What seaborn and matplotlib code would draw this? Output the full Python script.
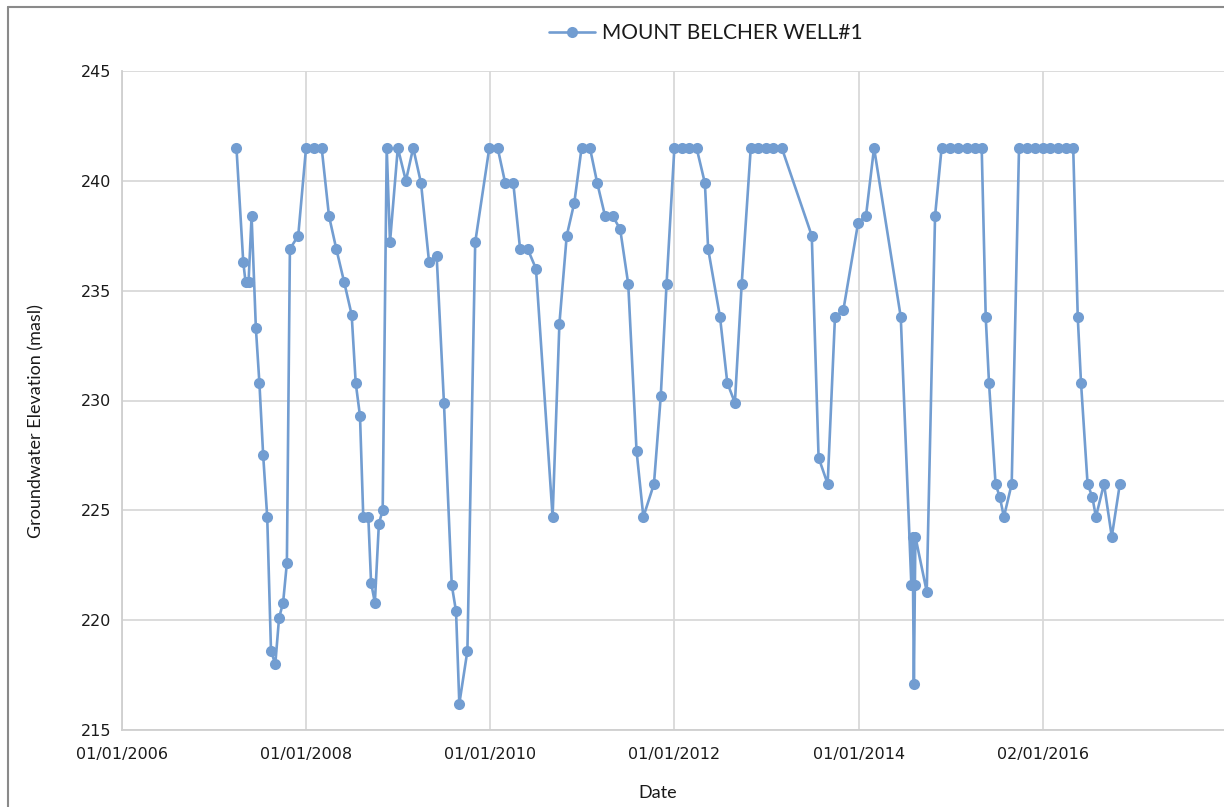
import matplotlib
matplotlib.use("Agg")
import matplotlib.pyplot as plt
import matplotlib.dates as mdates
from matplotlib.lines import Line2D
import pandas as pd
import seaborn as sns

# ---------------------------------------------------------
# Data
# ---------------------------------------------------------

SERIES_NAME = "MOUNT BELCHER WELL#1"

dates = [
    "2007-03-31", "2007-04-27", "2007-05-06", "2007-05-18", "2007-05-30", "2007-06-16",
    "2007-06-30", "2007-07-15", "2007-07-31", "2007-08-15", "2007-09-01", "2007-09-16",
    "2007-10-02", "2007-10-17", "2007-10-29", "2007-12-01",
    "2008-01-01", "2008-02-02", "2008-03-03", "2008-04-01", "2008-04-30", "2008-05-31",
    "2008-06-30", "2008-07-16", "2008-08-02", "2008-08-15", "2008-09-04", "2008-09-15",
    "2008-09-30", "2008-10-16", "2008-10-31", "2008-11-16", "2008-11-29", "2008-12-30",
    "2009-01-31", "2009-03-01", "2009-04-01", "2009-05-03", "2009-06-02", "2009-07-01",
    "2009-08-01", "2009-08-18", "2009-08-31", "2009-10-02", "2009-11-02", "2009-12-28",
    "2010-01-30", "2010-03-01", "2010-04-02", "2010-04-29", "2010-05-29", "2010-07-01",
    "2010-09-05", "2010-10-02", "2010-10-31", "2010-11-30", "2010-12-29",
    "2011-01-31", "2011-03-01", "2011-04-01", "2011-05-01", "2011-05-31", "2011-07-02",
    "2011-08-04", "2011-08-31", "2011-10-12", "2011-11-08", "2011-12-01",
    "2012-01-01", "2012-02-01", "2012-02-29", "2012-03-29", "2012-05-01", "2012-05-14",
    "2012-06-30", "2012-07-29", "2012-08-28", "2012-09-24", "2012-10-30", "2012-11-29",
    "2012-12-29",
    "2013-01-27", "2013-03-02", "2013-06-29", "2013-07-26", "2013-08-31", "2013-09-29",
    "2013-11-01", "2013-12-30",
    "2014-01-30", "2014-03-03", "2014-06-17", "2014-07-29", "2014-08-03", "2014-08-08",
    "2014-08-12", "2014-08-14", "2014-09-28", "2014-10-31", "2014-11-26", "2014-12-29",
    "2015-01-31", "2015-03-05", "2015-04-07", "2015-05-04", "2015-05-20", "2015-06-02",
    "2015-06-28", "2015-07-15", "2015-07-31", "2015-08-31", "2015-09-29", "2015-10-29",
    "2015-12-01",
    "2016-01-01", "2016-01-30", "2016-03-03", "2016-04-01", "2016-05-01", "2016-05-19",
    "2016-06-01", "2016-06-27", "2016-07-16", "2016-07-30", "2016-08-31", "2016-10-01",
    "2016-11-02",
]

elevation = [
    241.5, 236.3, 235.4, 235.4, 238.4, 233.3,
    230.8, 227.5, 224.7, 218.6, 218.0, 220.1,
    220.8, 222.6, 236.9, 237.5,
    241.5, 241.5, 241.5, 238.4, 236.9, 235.4,
    233.9, 230.8, 229.3, 224.7, 224.7, 221.7,
    220.8, 224.4, 225.0, 241.5, 237.2, 241.5,
    240.0, 241.5, 239.9, 236.3, 236.6, 229.9,
    221.6, 220.4, 216.2, 218.6, 237.2, 241.5,
    241.5, 239.9, 239.9, 236.9, 236.9, 236.0,
    224.7, 233.5, 237.5, 239.0, 241.5,
    241.5, 239.9, 238.4, 238.4, 237.8, 235.3,
    227.7, 224.7, 226.2, 230.2, 235.3,
    241.5, 241.5, 241.5, 241.5, 239.9, 236.9,
    233.8, 230.8, 229.9, 235.3, 241.5, 241.5,
    241.5,
    241.5, 241.5, 237.5, 227.4, 226.2, 233.8,
    234.1, 238.1,
    238.4, 241.5, 233.8, 221.6, 223.8, 217.1,
    221.6, 223.8, 221.3, 238.4, 241.5, 241.5,
    241.5, 241.5, 241.5, 241.5, 233.8, 230.8,
    226.2, 225.6, 224.7, 226.2, 241.5, 241.5,
    241.5,
    241.5, 241.5, 241.5, 241.5, 241.5, 233.8,
    230.8, 226.2, 225.6, 224.7, 226.2, 223.8,
    226.2,
]

x_tick_dates = ["2006-01-01", "2008-01-01", "2010-01-01", "2012-01-01",
                "2014-01-01", "2016-01-02"]
x_limits = ["2006-01-01", "2018-01-01"]
y_ticks = [215, 220, 225, 230, 235, 240, 245]

df = pd.DataFrame({"Date": pd.to_datetime(dates), "Elevation": elevation})

# ---------------------------------------------------------
# Style
# ---------------------------------------------------------

sns.set_theme(style="whitegrid")
plt.rcParams["font.family"] = ["DejaVu Sans"]

LINE_COLOR = "#729dd1"
GRID_COLOR = "#d9d9d9"
TEXT_COLOR = "#1a1a1a"

W, H = 1224, 807
fig = plt.figure(figsize=(W / 100, H / 100), dpi=100)
fig.patch.set_facecolor("white")

left, right, top, bottom = 122, 1227, 71, 730
ax = fig.add_axes([left / W, 1 - bottom / H, (right - left) / W, (bottom - top) / H])

sns.lineplot(
    data=df,
    x="Date",
    y="Elevation",
    color=LINE_COLOR,
    linewidth=1.9,
    marker="o",
    markersize=8,
    markeredgewidth=0,
    label=SERIES_NAME,
    ax=ax,
)

ax.set_xlim(pd.to_datetime(x_limits[0]), pd.to_datetime(x_limits[1]))
ax.set_ylim(y_ticks[0], y_ticks[-1])

ax.set_xticks(pd.to_datetime(x_tick_dates))
ax.xaxis.set_major_formatter(mdates.DateFormatter("%d/%m/%Y"))
ax.set_yticks(y_ticks)

ax.grid(True, color=GRID_COLOR, linewidth=1.3)
ax.set_axisbelow(True)
for side in ["top", "right"]:
    ax.spines[side].set_visible(False)
for side in ["left", "bottom"]:
    ax.spines[side].set_color("#cfcfcf")
    ax.spines[side].set_linewidth(1.3)

ax.tick_params(axis="both", length=0, labelsize=11.5, colors=TEXT_COLOR)
ax.tick_params(axis="y", pad=8)
ax.tick_params(axis="x", pad=12)

ax.set_xlabel("Date", family="Lato", fontsize=13, color=TEXT_COLOR)
ax.set_ylabel("Groundwater Elevation (masl)", family="Lato", fontsize=13,
              color=TEXT_COLOR)
ax.xaxis.set_label_coords((658 - left) / (right - left), (bottom - 793) / (bottom - top))
ax.yaxis.set_label_coords((36 - left) / (right - left), (bottom - 421) / (bottom - top))
ax.xaxis.label.set_va("center")
ax.yaxis.label.set_va("center")

leg = ax.legend(
    loc="center",
    bbox_to_anchor=(706 / W, 1 - 33 / H),
    bbox_transform=fig.transFigure,
    frameon=False,
    handlelength=2.2,
    handletextpad=0.35,
    prop={"family": "Lato", "size": 15},
)
for t in leg.get_texts():
    t.set_color(TEXT_COLOR)

# chart-area border (only the top and left edges show in the reference)
fig.add_artist(Line2D([8 / W, 8 / W], [0, 1 - 7 / H], transform=fig.transFigure,
                      color="#8a8a8a", linewidth=1.5))
fig.add_artist(Line2D([8 / W, 1], [1 - 7 / H, 1 - 7 / H], transform=fig.transFigure,
                      color="#8a8a8a", linewidth=1.5))

fig.savefig("out.png", dpi=100)
